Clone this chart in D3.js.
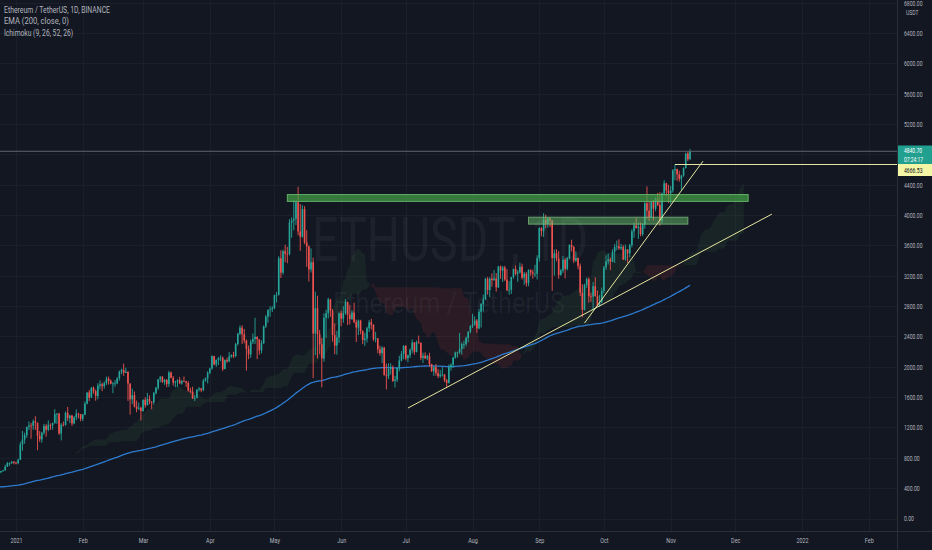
<!DOCTYPE html>
<html><head><meta charset="utf-8">
<script src="https://cdn.jsdelivr.net/npm/d3@7"></script>
<style>html,body{margin:0;padding:0;background:#131722;overflow:hidden}svg{display:block}</style>
</head><body>
<svg id="c" width="932" height="550"></svg>
<script>
// ---- DATA: daily candles [open, high, low, close] (ETH/USDT, Binance) ----
const dec20 = [[583,614,568,611],[611,628,596,626],[626,642,616,635],[635,708,630,683],[683,745,682,730],[730,740,693,731],[731,754,720,751],[751,754,715,737]];
const jan21 = [[737,749,714,730],[730,787,715,774],[774,1011,769,976],[976,1154,893,1041],[1041,1132,986,1100],[1100,1211,1065,1208],[1208,1280,1167,1225],[1225,1260,1052,1224],[1224,1305,1170,1281],[1281,1349,1169,1262],[1262,1264,901,1090],[1090,1153,1010,1043],[1043,1141,998,1130],[1130,1247,1105,1218],[1218,1247,1078,1171],[1171,1293,1150,1233],[1233,1254,1170,1230],[1230,1265,1170,1257],[1257,1440,1251,1377],[1377,1391,1247,1382],[1382,1394,1102,1121],[1121,1257,1030,1236],[1236,1279,1215,1233],[1233,1410,1225,1392],[1392,1470,1286,1324],[1324,1368,1257,1357],[1357,1365,1221,1253],[1253,1350,1242,1332],[1332,1437,1296,1382],[1382,1394,1320,1377],[1377,1378,1282,1314]];
const feb21 = [[1314,1380,1286,1369],[1369,1542,1362,1514],[1514,1662,1505,1661],[1661,1694,1546,1593],[1593,1735,1591,1723],[1723,1740,1645,1679],[1679,1699,1552,1614],[1614,1783,1571,1750],[1750,1821,1704,1769],[1769,1792,1679,1744],[1744,1807,1711,1784],[1784,1872,1760,1843],[1843,1871,1765,1815],[1815,1833,1770,1776],[1776,1800,1652,1780],[1780,1826,1736,1781],[1781,1863,1770,1848],[1848,1950,1818,1937],[1937,1975,1902,1960],[1960,2042,1880,1919],[1919,1987,1918,1935],[1935,1938,1551,1780],[1780,1780,1370,1571],[1571,1711,1510,1626],[1626,1674,1464,1475],[1475,1554,1400,1446],[1446,1527,1431,1459],[1459,1474,1293,1416]];
const mar21 = [[1416,1570,1409,1564],[1564,1598,1460,1493],[1493,1655,1490,1575],[1575,1623,1506,1540],[1540,1547,1440,1532],[1532,1668,1500,1654],[1654,1734,1635,1723],[1723,1838,1695,1834],[1834,1877,1796,1868],[1868,1877,1786,1799],[1799,1840,1762,1826],[1826,1840,1730,1771],[1771,1946,1735,1924],[1924,1936,1850,1854],[1854,1877,1752,1791],[1791,1816,1730,1806],[1806,1835,1734,1823],[1823,1867,1770,1781],[1781,1828,1763,1810],[1810,1873,1803,1806],[1806,1817,1734,1787],[1787,1810,1674,1685],[1685,1725,1650,1669],[1669,1738,1578,1581],[1581,1625,1548,1588],[1588,1703,1586,1700],[1700,1733,1675,1714],[1714,1721,1665,1692],[1692,1840,1679,1817],[1817,1860,1803,1846],[1846,1943,1780,1918]];
const apr21 = [[1918,1988,1905,1977],[1977,2150,1960,2141],[2141,2145,2020,2030],[2030,2097,1999,2089],[2089,2130,2023,2112],[2112,2150,2073,2118],[2118,2137,1945,1969],[1969,2097,1969,2087],[2087,2120,2051,2072],[2072,2196,2061,2136],[2136,2165,2115,2155],[2155,2197,2115,2141],[2141,2314,2127,2300],[2300,2448,2280,2435],[2435,2544,2415,2516],[2516,2547,2300,2429],[2429,2497,2310,2345],[2345,2359,1950,2236],[2236,2280,2100,2164],[2164,2360,2118,2330],[2330,2440,2300,2366],[2366,2645,2300,2395],[2395,2400,2100,2361],[2361,2362,2158,2217],[2217,2347,2176,2311],[2311,2545,2300,2533],[2533,2680,2509,2661],[2661,2758,2580,2746],[2746,2798,2660,2756],[2756,2800,2722,2772]];
const may21 = [[2772,2950,2760,2945],[2945,2987,2849,2949],[2949,3457,2940,3431],[3431,3536,3170,3240],[3240,3543,3215,3524],[3524,3610,3380,3490],[3490,3580,3365,3484],[3484,3947,3468,3902],[3902,3970,3702,3928],[3928,4200,3800,3952],[3952,4185,3868,4168],[4168,4372,3734,3785],[3785,4146,3528,3715],[3715,4130,3700,4079],[4079,4116,3616,3640],[3640,3800,3317,3587],[3587,3600,3125,3282],[3282,3561,3244,3378],[3378,3439,1850,2439],[2439,2990,2153,2772],[2772,2936,2109,2430],[2430,2485,2166,2295],[2295,2380,1728,2109],[2109,2703,2067,2644],[2644,2753,2383,2706],[2706,2911,2636,2888],[2888,2895,2658,2736],[2736,2762,2330,2419],[2419,2571,2165,2279],[2279,2474,2160,2386],[2386,2715,2314,2706]];
const jun21 = [[2706,2740,2536,2634],[2634,2800,2580,2707],[2707,2892,2685,2855],[2855,2858,2550,2688],[2688,2817,2558,2630],[2630,2744,2616,2715],[2715,2845,2576,2590],[2590,2621,2325,2517],[2517,2623,2418,2609],[2609,2619,2428,2472],[2472,2480,2297,2354],[2354,2449,2275,2372],[2372,2528,2320,2508],[2508,2618,2460,2587],[2587,2632,2493,2553],[2553,2561,2338,2366],[2366,2460,2321,2373],[2373,2379,2178,2229],[2229,2276,2146,2178],[2178,2272,2050,2252],[2252,2262,1887,1889],[1889,2040,1701,1875],[1875,2045,1837,1970],[1970,2046,1897,1990],[1990,2017,1801,1812],[1812,1880,1727,1830],[1830,1994,1800,1983],[1983,2146,1940,2082],[2082,2207,2071,2169],[2169,2285,2100,2275]];
const jul21 = [[2275,2286,2085,2112],[2112,2162,2060,2151],[2151,2240,2115,2225],[2225,2360,2178,2322],[2322,2323,2160,2197],[2197,2347,2189,2324],[2324,2411,2304,2316],[2316,2321,2087,2117],[2117,2186,2050,2147],[2147,2190,2100,2110],[2110,2159,2087,2141],[2141,2185,2000,2036],[2036,2040,1932,1941],[1941,2010,1880,1995],[1995,2038,1882,1917],[1917,1973,1851,1876],[1876,1959,1855,1895],[1895,1995,1871,1899],[1899,1900,1800,1819],[1819,1839,1718,1788],[1788,2030,1780,1995],[1995,2045,1950,2027],[2027,2130,1985,2123],[2123,2200,2106,2188],[2188,2200,2120,2191],[2191,2446,2170,2233],[2233,2320,2161,2298],[2298,2343,2236,2300],[2300,2398,2270,2380],[2380,2468,2323,2461],[2461,2550,2440,2536]];
const aug21 = [[2536,2699,2511,2555],[2555,2665,2541,2609],[2609,2629,2447,2506],[2506,2760,2493,2725],[2725,2840,2517,2827],[2827,2952,2730,2890],[2890,3174,2880,3157],[3157,3185,2950,3012],[3012,3180,2920,3163],[3163,3232,3055,3142],[3142,3275,3135,3164],[3164,3235,2990,3047],[3047,3330,3040,3322],[3322,3334,3160,3266],[3266,3330,3117,3309],[3309,3331,3130,3149],[3149,3287,2995,3011],[3011,3128,2950,3015],[3015,3186,2960,3183],[3183,3295,3162,3289],[3289,3337,3205,3226],[3226,3275,3120,3243],[3243,3374,3230,3320],[3320,3358,3150,3174],[3174,3250,3080,3226],[3226,3248,3057,3103],[3103,3285,3062,3273],[3273,3284,3200,3243],[3243,3281,3160,3226],[3226,3345,3184,3226],[3226,3470,3151,3431]];
const sep21 = [[3431,3838,3387,3830],[3830,3840,3720,3788],[3788,4025,3710,3939],[3939,4005,3825,3888],[3888,3968,3833,3953],[3953,3972,3842,3927],[3927,3938,3000,3433],[3433,3545,3201,3495],[3495,3550,3390,3429],[3429,3525,3160,3210],[3210,3290,3202,3269],[3269,3460,3238,3409],[3409,3432,3166,3290],[3290,3446,3271,3431],[3431,3615,3418,3605],[3605,3675,3520,3579],[3579,3595,3366,3399],[3399,3520,3380,3433],[3433,3440,3286,3330],[3330,3361,2932,2976],[2976,3090,2653,2751],[2751,3095,2742,3079],[3079,3175,3040,3155],[3155,3180,2845,2929],[2929,2977,2855,2925],[2925,3118,2738,3062],[3062,3180,2925,2931],[2931,3005,2800,2807],[2807,2945,2790,2851],[2851,3044,2837,3001]];
const oct21 = [[3001,3330,2970,3310],[3310,3470,3275,3389],[3389,3493,3347,3418],[3418,3442,3275,3384],[3384,3548,3381,3517],[3517,3620,3367,3577],[3577,3665,3535,3588],[3588,3680,3542,3561],[3561,3620,3538,3579],[3579,3605,3407,3414],[3414,3610,3400,3547],[3547,3549,3370,3496],[3496,3620,3443,3604],[3604,3815,3575,3786],[3786,3900,3700,3865],[3865,3963,3820,3831],[3831,3900,3685,3848],[3848,3900,3720,3748],[3748,3890,3722,3878],[3878,4175,3820,4157],[4157,4377,3950,4058],[4058,4173,3920,3971],[3971,4180,3960,4170],[4170,4200,3930,4084],[4084,4237,4050,4220],[4220,4293,4118,4132],[4132,4300,3860,3927],[3927,4296,3890,4285],[4285,4460,4258,4418],[4418,4424,4250,4323],[4323,4400,4160,4288]];
const nov21 = [[4288,4383,4150,4324],[4324,4605,4296,4590],[4590,4667,4460,4607],[4607,4610,4450,4537],[4537,4585,4440,4478],[4478,4530,4330,4520],[4520,4630,4505,4620],[4620,4822,4612,4812],[4812,4838,4711,4735],[4735,4868,4730,4840.70]];
const monthStarts = ["2020-12-24","2021-01-01","2021-02-01","2021-03-01","2021-04-01","2021-05-01","2021-06-01","2021-07-01","2021-08-01","2021-09-01","2021-10-01","2021-11-01"];
const monthRows = [dec20,jan21,feb21,mar21,apr21,may21,jun21,jul21,aug21,sep21,oct21,nov21];

// axis labels (4800 is hidden under the last-price label in the reference)
const priceTicks = [0,400,800,1200,1600,2000,2400,2800,3200,3600,4000,4400,4800,5200,5600,6000,6400,6800];
const priceLabelTicks = [0,400,800,1200,1600,2000,2400,2800,3200,3600,4000,4400,5200,5600,6000,6400,6800];
const timeTicks = ["2021-01-01","2021-02-01","2021-03-01","2021-04-01","2021-05-01","2021-06-01","2021-07-01","2021-08-01","2021-09-01","2021-10-01","2021-11-01","2021-12-01","2022-01-01","2022-02-01"];
const timeLabels = ["2021","Feb","Mar","Apr","May","Jun","Jul","Aug","Sep","Oct","Nov","Dec","2022","Feb"];
const headerLines = ["Ethereum / TetherUS, 1D, BINANCE","EMA (200, close, 0)","Ichimoku (9, 26, 52, 26)"];

// indicators / drawings
const emaLength = 200, emaSeed = 412;
const ichimoku = {conv:9, base:26, spanB:52, disp:26};
const zones = [{from:"2021-05-07", to:"2021-12-07", lo:4180, hi:4270},{from:"2021-08-27", to:"2021-11-09", lo:3880, hi:3972}];
const trendLines = [{t1:"2021-07-02", p1:1456, t2:"2021-12-18", p2:4012},{t1:"2021-09-22", p1:2576, t2:"2021-11-16", p2:4710}];
const levelLine = {from:"2021-11-03", price:4666.53};
const lastPrice = 4840.70, countdown = "07:24:17";

// ---- BUILD ----
const DAY = 864e5;
const U = s => new Date(s + "T00:00:00Z");
const candles = [];
monthRows.forEach((rows, m) => {
  const t0 = U(monthStarts[m]).getTime();
  rows.forEach((r, i) => candles.push({t:new Date(t0 + i*DAY), o:r[0], h:r[1], l:r[2], c:r[3]}));
});

const W = 932, H = 550, paneR = 897, paneB = 531;
const x = d3.scaleUtc().domain([U("2021-01-01"), U("2022-01-01")]).range([16, 802]);
const y = d3.scaleLinear().domain([0, 6400]).range([518.5, 33]);

const svg = d3.select("#c");
svg.append("rect").attr("width", W).attr("height", H).attr("fill", "#131722");
svg.append("defs").append("clipPath").attr("id", "pane").append("rect").attr("x", 0).attr("y", 0).attr("width", paneR).attr("height", paneB);
const pane = svg.append("g").attr("clip-path", "url(#pane)");

// grid
pane.append("g").selectAll("line").data(priceTicks).join("line")
  .attr("x1", 0).attr("x2", paneR).attr("y1", d => Math.round(y(d)) + 0.5).attr("y2", d => Math.round(y(d)) + 0.5)
  .attr("stroke", "#1b1f2b").attr("stroke-width", 1);
pane.append("g").selectAll("line").data(timeTicks).join("line")
  .attr("y1", 0).attr("y2", paneB).attr("x1", d => Math.round(x(U(d))) + 0.5).attr("x2", d => Math.round(x(U(d))) + 0.5)
  .attr("stroke", "#1b1f2b").attr("stroke-width", 1);

// watermark
const font = "Roboto, 'Liberation Sans', Arial, sans-serif";
pane.append("text").text("ETHUSDT, 1D").attr("x", 312).attr("y", 261)
  .attr("textLength", 276).attr("lengthAdjust", "spacingAndGlyphs")
  .attr("font-family", font).attr("font-size", 62).attr("fill", "rgba(140,145,160,0.09)");
pane.append("text").text("Ethereum / TetherUS").attr("x", 333).attr("y", 313)
  .attr("textLength", 232).attr("lengthAdjust", "spacingAndGlyphs")
  .attr("font-family", font).attr("font-size", 30).attr("fill", "rgba(140,145,160,0.09)");

// ichimoku cloud
function mid(n, i) {
  let hi = -Infinity, lo = Infinity;
  for (let k = Math.max(0, i - n + 1); k <= i; k++) { hi = Math.max(hi, candles[k].h); lo = Math.min(lo, candles[k].l); }
  return (hi + lo) / 2;
}
const cloud = candles.map((d, i) => {
  const conv = mid(ichimoku.conv, i), base = mid(ichimoku.base, i);
  return {t:new Date(d.t.getTime() + (ichimoku.disp - 1)*DAY), a:(conv + base)/2, b:mid(ichimoku.spanB, i)};
});
let gP = "", rP = "";
const poly = pts => "M" + pts.map(p => p[0].toFixed(2) + "," + p[1].toFixed(2)).join("L") + "Z";
for (let i = 0; i < cloud.length - 1; i++) {
  const p = cloud[i], q = cloud[i + 1];
  const x0 = x(p.t), x1 = x(q.t);
  const d0 = p.a - p.b, d1 = q.a - q.b;
  if (d0 * d1 >= 0) {
    const s = poly([[x0, y(p.a)], [x1, y(q.a)], [x1, y(q.b)], [x0, y(p.b)]]);
    if (d0 + d1 >= 0) gP += s; else rP += s;
  } else {
    const f = d0 / (d0 - d1), xc = x0 + f*(x1 - x0), vc = p.a + f*(q.a - p.a);
    const s1 = poly([[x0, y(p.a)], [xc, y(vc)], [x0, y(p.b)]]);
    const s2 = poly([[xc, y(vc)], [x1, y(q.a)], [x1, y(q.b)]]);
    if (d0 > 0) { gP += s1; rP += s2; } else { rP += s1; gP += s2; }
  }
}
pane.append("path").attr("d", gP).attr("fill", "rgba(67,160,71,0.1)");
pane.append("path").attr("d", rP).attr("fill", "rgba(244,67,54,0.1)");

// EMA 200
const alpha = 2 / (emaLength + 1);
let e = emaSeed;
const ema = candles.map(d => { e = alpha*d.c + (1 - alpha)*e; return {t:d.t, v:e}; });
pane.append("path").attr("d", d3.line().x(d => x(d.t)).y(d => y(d.v))(ema))
  .attr("fill", "none").attr("stroke", "#2e7bcf").attr("stroke-width", 1.3);

// candles
const up = "#26a69a", dn = "#ef5350";
const cg = pane.append("g");
cg.selectAll("line").data(candles).join("line")
  .attr("x1", d => x(d.t)).attr("x2", d => x(d.t)).attr("y1", d => y(d.h)).attr("y2", d => y(d.l))
  .attr("stroke", d => d.c >= d.o ? up : dn).attr("stroke-width", 0.9);
cg.selectAll("rect").data(candles).join("rect")
  .attr("x", d => x(d.t) - 0.8).attr("width", 1.6)
  .attr("y", d => y(Math.max(d.o, d.c))).attr("height", d => Math.max(0.8, Math.abs(y(d.o) - y(d.c))))
  .attr("fill", d => d.c >= d.o ? up : dn);

// zones
zones.forEach((z, i) => {
  pane.append("rect").attr("x", x(U(z.from))).attr("width", x(U(z.to)) - x(U(z.from)))
    .attr("y", y(z.hi)).attr("height", y(z.lo) - y(z.hi))
    .attr("fill", i === 0 ? "rgba(67,160,71,0.72)" : "rgba(102,187,106,0.5)")
    .attr("stroke", i === 0 ? "rgba(102,187,106,0.9)" : "rgba(129,199,132,0.7)").attr("stroke-width", 1);
});

// trend lines
trendLines.forEach(l => {
  pane.append("line").attr("x1", x(U(l.t1))).attr("y1", y(l.p1)).attr("x2", x(U(l.t2))).attr("y2", y(l.p2))
    .attr("stroke", "#e6e6a0").attr("stroke-width", 1);
});
// level line
pane.append("line").attr("x1", x(U(levelLine.from))).attr("x2", paneR).attr("y1", y(levelLine.price)).attr("y2", y(levelLine.price))
  .attr("stroke", "#e6e6a0").attr("stroke-width", 1.2);
// last price line
pane.append("line").attr("x1", 0).attr("x2", paneR).attr("y1", y(lastPrice)).attr("y2", y(lastPrice))
  .attr("stroke", "#5d6270").attr("stroke-width", 1);

// header legend
const hx = [106, 65, 69];
headerLines.forEach((t, i) => {
  svg.append("text").text(t).attr("x", 4).attr("y", 12.5 + i*11.7)
    .attr("textLength", hx[i]).attr("lengthAdjust", "spacingAndGlyphs")
    .attr("font-family", font).attr("font-size", 8.5).attr("fill", "#b2b5be");
});

// separators
svg.append("line").attr("x1", paneR + 0.5).attr("x2", paneR + 0.5).attr("y1", 0).attr("y2", H).attr("stroke", "#2a2e39");
svg.append("line").attr("x1", 0).attr("x2", W).attr("y1", paneB + 0.5).attr("y2", paneB + 0.5).attr("stroke", "#2a2e39");

// price axis
const SX = 0.68;
const ya = svg.append("g").attr("transform", `translate(${paneR + 1},0)`)
  .call(d3.axisRight(y).tickValues(priceLabelTicks).tickFormat(d3.format(".2f")).tickSize(0).tickPadding(0));
ya.select(".domain").remove();
ya.selectAll("text").attr("x", 6/SX).attr("transform", `scale(${SX},1)`)
  .attr("font-family", font).attr("font-size", 7.5).attr("fill", "#b2b5be");

// USDT label
svg.append("text").text("USDT").attr("transform", `translate(906,14.5) scale(${SX},1)`)
  .attr("font-family", font).attr("font-size", 7.5).attr("fill", "#b2b5be");

// time axis
const xa = svg.append("g").attr("transform", `translate(0,${paneB})`)
  .call(d3.axisBottom(x).tickValues(timeTicks.map(U)).tickFormat((d, i) => timeLabels[i]).tickSize(0).tickPadding(0));
xa.select(".domain").remove();
xa.selectAll("text").attr("y", 12).attr("dy", 0).attr("transform", `scale(${SX},1)`)
  .attr("font-family", font).attr("font-size", 8).attr("fill", "#b2b5be");

// price labels
const lp = svg.append("g");
lp.append("rect").attr("x", paneR + 1).attr("y", 145.5).attr("width", 34).attr("height", 18.5).attr("fill", "#22a08f");
lp.append("text").text(d3.format(".2f")(lastPrice)).attr("transform", `translate(904,152.5) scale(${SX},1)`)
  .attr("font-family", font).attr("font-size", 7.3).attr("fill", "#ffffff");
lp.append("text").text(countdown).attr("transform", `translate(904,161.5) scale(${SX},1)`)
  .attr("font-family", font).attr("font-size", 7.3).attr("fill", "#ffffff");
lp.append("rect").attr("x", paneR + 1).attr("y", y(levelLine.price) - 0.5).attr("width", 34).attr("height", 12).attr("fill", "#f5f5a6");
lp.append("text").text(d3.format(".2f")(levelLine.price)).attr("transform", `translate(904,${y(levelLine.price) + 8.5}) scale(${SX},1)`)
  .attr("font-family", font).attr("font-size", 7.5).attr("fill", "#131722");
</script>
</body></html>
